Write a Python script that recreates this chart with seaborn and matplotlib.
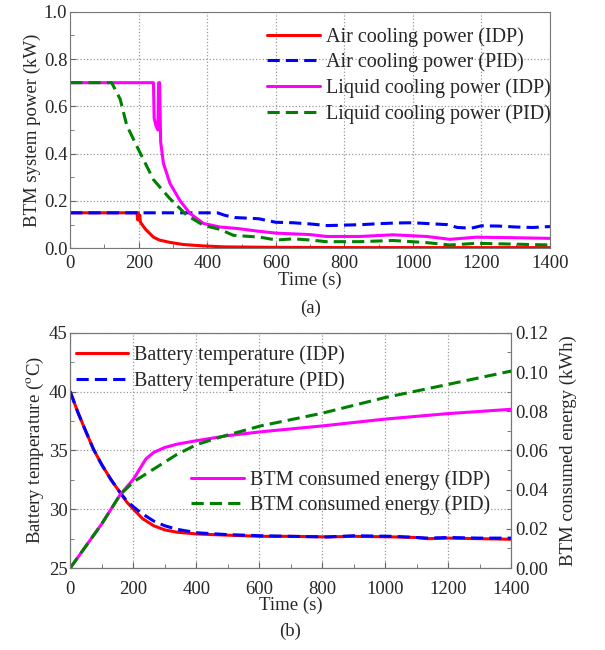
import numpy as np
import pandas as pd
import matplotlib
matplotlib.use("Agg")
import matplotlib.pyplot as plt
from matplotlib.ticker import MultipleLocator, FormatStrFormatter
import seaborn as sns

# ---- (a) BTM system power, kW ----
air_idp_t = [0, 195, 197, 199, 201, 203, 205, 210, 220, 243, 260, 291, 330, 389, 450, 600, 800, 1000, 1200, 1400]
air_idp = [0.15, 0.15, 0.12, 0.15, 0.12, 0.14, 0.11, 0.10, 0.08, 0.047, 0.035, 0.025, 0.016, 0.01, 0.006, 0.004, 0.003, 0.003, 0.003, 0.003]

air_pid_t = [0, 430, 450, 480, 550, 600, 650, 700, 750, 800, 850, 900, 950, 1000, 1050, 1100, 1130, 1170, 1200, 1250, 1300, 1350, 1400]
air_pid = [0.15, 0.15, 0.14, 0.13, 0.125, 0.11, 0.108, 0.103, 0.096, 0.098, 0.1, 0.104, 0.107, 0.108, 0.104, 0.1, 0.088, 0.085, 0.095, 0.094, 0.09, 0.088, 0.092]

liq_idp_t = [0, 243, 245, 250, 256, 258, 261, 264, 272, 291, 321, 350, 389, 437, 486, 550, 602, 700, 748, 845, 942, 1040, 1108, 1185, 1283, 1400]
liq_idp = [0.7, 0.7, 0.55, 0.52, 0.5, 0.7, 0.7, 0.45, 0.36, 0.275, 0.20, 0.147, 0.105, 0.09, 0.084, 0.072, 0.064, 0.058, 0.05, 0.05, 0.057, 0.05, 0.038, 0.047, 0.045, 0.042]

liq_pid_t = [0, 121, 146, 165, 195, 243, 291, 340, 389, 437, 476, 554, 602, 651, 700, 748, 845, 942, 1040, 1108, 1185, 1283, 1400]
liq_pid = [0.7, 0.7, 0.63, 0.52, 0.43, 0.29, 0.21, 0.14, 0.097, 0.08, 0.055, 0.047, 0.035, 0.04, 0.035, 0.028, 0.028, 0.033, 0.024, 0.014, 0.021, 0.018, 0.014]

# ---- (b) battery temperature and consumed energy ----
temp_t = [0, 25, 50, 74, 100, 130, 159, 180, 201, 230, 265, 300, 339, 402, 498, 604, 700, 816, 900, 1028, 1100, 1134, 1200, 1300, 1400]
temp_idp = [40.0, 38.2, 36.6, 35.1, 33.8, 32.5, 31.4, 30.6, 30.0, 29.2, 28.6, 28.25, 28.05, 27.9, 27.8, 27.7, 27.7, 27.65, 27.7, 27.65, 27.6, 27.5, 27.55, 27.5, 27.45]
temp_pid = [40.0, 38.2, 36.6, 35.1, 33.8, 32.5, 31.4, 30.7, 30.2, 29.6, 29.0, 28.6, 28.3, 28.0, 27.85, 27.75, 27.7, 27.65, 27.75, 27.7, 27.6, 27.55, 27.6, 27.55, 27.55]

energy_idp_t = [0, 100, 159, 201, 240, 265, 300, 339, 402, 498, 604, 800, 1000, 1200, 1400]
energy_idp = [0.0, 0.0225, 0.0375, 0.0454, 0.0556, 0.059, 0.0615, 0.0632, 0.065, 0.0675, 0.0695, 0.0725, 0.076, 0.0788, 0.081]

energy_pid_t = [0, 100, 159, 201, 265, 339, 402, 480, 604, 800, 1000, 1200, 1400]
energy_pid = [0.0, 0.0225, 0.0375, 0.044, 0.0505, 0.058, 0.063, 0.067, 0.0725, 0.079, 0.087, 0.0937, 0.1005]

sns.set_style("ticks")
plt.rcParams["font.family"] = ["Liberation Serif", "DejaVu Serif"]
plt.rcParams["mathtext.fontset"] = "stix"
FS = 13.5     # ticks and axis labels
LFS = 14.5    # legend text

fig = plt.figure(figsize=(6.05, 6.5), dpi=100)
ax1 = fig.add_axes([0.116, 0.618, 0.793, 0.364])
ax2 = fig.add_axes([0.116, 0.126, 0.729, 0.362])


def line(ax, t, y, color, dashed, label):
    df = pd.DataFrame({"t": t, "y": y})
    sns.lineplot(data=df, x="t", y="y", ax=ax, color=color, lw=2.2,
                 linestyle=(0, (4, 2)) if dashed else "-",
                 estimator=None, sort=False, label=label)


def style_axes(ax, xpad, lpad):
    ax.set_xlim(0, 1400)
    ax.xaxis.set_major_locator(MultipleLocator(200))
    ax.xaxis.set_minor_locator(MultipleLocator(100))
    ax.grid(True, which="major", color="#999999", linestyle=":", lw=0.9)
    ax.tick_params(which="both", direction="in", labelsize=FS, color="#666666")
    ax.tick_params(which="major", length=4)
    ax.tick_params(which="minor", length=3)
    ax.tick_params(axis="y", pad=2)
    ax.tick_params(axis="x", pad=xpad)
    for s in ax.spines.values():
        s.set_color("#777777")
    ax.set_xlabel("Time (s)", fontsize=FS, labelpad=lpad)


leg_kw = dict(frameon=False, fontsize=LFS, handlelength=2.6,
              handletextpad=0.3, labelspacing=0.3)

# (a)
line(ax1, air_idp_t, air_idp, "#ff0000", False, "Air cooling power (IDP)")
line(ax1, air_pid_t, air_pid, "#0000ff", True, "Air cooling power (PID)")
line(ax1, liq_idp_t, liq_idp, "#ff00ff", False, "Liquid cooling power (IDP)")
line(ax1, liq_pid_t, liq_pid, "#008000", True, "Liquid cooling power (PID)")
style_axes(ax1, 4.5, 0)
ax1.set_ylim(0, 1.0)
ax1.yaxis.set_major_locator(MultipleLocator(0.2))
ax1.yaxis.set_minor_locator(MultipleLocator(0.1))
ax1.set_ylabel("BTM system power (kW)", fontsize=FS, labelpad=2)
ax1.legend(loc="upper right", bbox_to_anchor=(1.018, 0.97), borderaxespad=0, **leg_kw)
fig.text(0.513, 0.525, "(a)", ha="center", va="center", fontsize=FS)

# (b)
line(ax2, temp_t, temp_idp, "#ff0000", False, "Battery temperature (IDP)")
line(ax2, temp_t, temp_pid, "#0000ff", True, "Battery temperature (PID)")
style_axes(ax2, 9, -1)
ax2.set_ylim(25, 45)
ax2.yaxis.set_major_locator(MultipleLocator(5))
ax2.yaxis.set_minor_locator(MultipleLocator(2.5))
ax2.set_ylabel("Battery temperature ($^{\\rm o}$C)", fontsize=FS, labelpad=2)
ax2.legend(loc="upper left", bbox_to_anchor=(-0.005, 0.98), borderaxespad=0, **leg_kw)

ax3 = ax2.twinx()
line(ax3, energy_idp_t, energy_idp, "#ff00ff", False, "BTM consumed energy (IDP)")
line(ax3, energy_pid_t, energy_pid, "#008000", True, "BTM consumed energy (PID)")
ax3.set_ylim(0, 0.12)
ax3.yaxis.set_major_locator(MultipleLocator(0.02))
ax3.yaxis.set_minor_locator(MultipleLocator(0.01))
ax3.yaxis.set_major_formatter(FormatStrFormatter("%.2f"))
ax3.tick_params(which="both", direction="in", labelsize=FS, color="#666666", pad=3)
ax3.tick_params(which="minor", length=3)
for s in ax3.spines.values():
    s.set_color("#777777")
ax3.set_ylabel("BTM consumed energy (kWh)", fontsize=FS, labelpad=8)
ax3.legend(loc="lower right", bbox_to_anchor=(0.97, 0.19), borderaxespad=0, **leg_kw)
fig.text(0.48, 0.028, "(b)", ha="center", va="center", fontsize=FS)

fig.savefig("out.png", dpi=100)
